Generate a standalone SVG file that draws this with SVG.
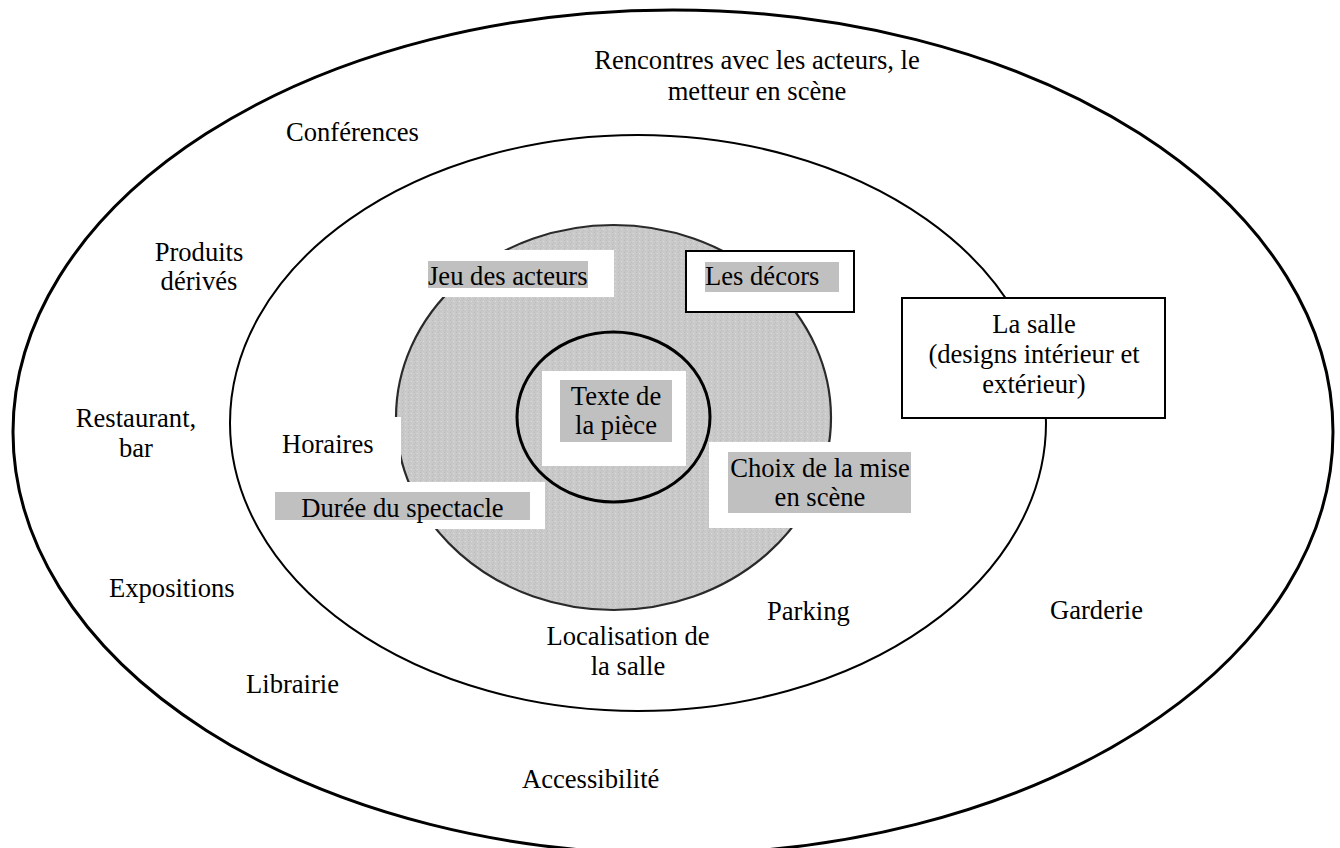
<svg xmlns="http://www.w3.org/2000/svg" width="1340" height="848" viewBox="0 0 1340 848">
  <style>
    .t { font-family: "Liberation Serif", "Times New Roman", serif; font-size: 26.6px; fill: #000; }
    .m { text-anchor: middle; }
    .hl { fill: #c0c0c0; }
    .patch { fill: #ffffff; }
    .box { fill: #ffffff; stroke: #000; stroke-width: 2; }
  </style>
  <defs>
    <pattern id="stipple" width="6" height="4" patternUnits="userSpaceOnUse">
      <rect width="6" height="4" fill="#cacaca"/>
      <rect x="0" y="0" width="1" height="1" fill="#b9b9b9"/>
      <rect x="3" y="1" width="1" height="1" fill="#dadada"/>
      <rect x="1" y="2" width="1" height="1" fill="#bdbdbd"/>
      <rect x="4" y="3" width="1" height="1" fill="#d6d6d6"/>
      <rect x="0" y="3" width="6" height="1" fill="#c4c4c4" opacity="0.6"/>
    </pattern>
  </defs>

  <rect width="1340" height="848" fill="#ffffff"/>

  <g id="rings">
    <ellipse id="outer-ring" cx="673" cy="432" rx="660" ry="422" fill="#ffffff" stroke="#000" stroke-width="3"/>
    <ellipse id="middle-ring" cx="638" cy="423" rx="408" ry="288" fill="#ffffff" stroke="#000" stroke-width="2"/>
    <ellipse id="gray-ring" cx="613.5" cy="417.5" rx="217.5" ry="192.5" fill="url(#stipple)" stroke="#2a2a2a" stroke-width="2.2"/>
    <ellipse id="inner-core" cx="613.5" cy="417" rx="96.5" ry="85" fill="url(#stipple)" stroke="#000" stroke-width="3"/>
  </g>

  <g id="connectors"></g>

  <g id="outer-labels">
    <g id="n-rencontres">
      <text class="t m" x="757" y="69">Rencontres avec les acteurs, le</text>
      <text class="t m" x="757" y="100">metteur en scène</text>
    </g>
    <g id="n-conferences"><text class="t" x="286" y="141">Conférences</text></g>
    <g id="n-produits">
      <text class="t m" x="199" y="261">Produits</text>
      <text class="t m" x="199" y="290">dérivés</text>
    </g>
    <g id="n-restaurant">
      <text class="t m" x="136" y="427">Restaurant,</text>
      <text class="t m" x="136" y="457">bar</text>
    </g>
    <g id="n-expositions"><text class="t" x="109" y="597">Expositions</text></g>
    <g id="n-librairie"><text class="t" x="246" y="693">Librairie</text></g>
    <g id="n-accessibilite"><text class="t" x="522" y="788">Accessibilité</text></g>
    <g id="n-garderie"><text class="t" x="1050" y="619">Garderie</text></g>
  </g>

  <g id="middle-labels">
    <g id="n-horaires">
      <rect class="patch" x="270" y="417" width="131" height="65"/>
      <text class="t" x="282" y="453">Horaires</text>
    </g>
    <g id="n-localisation">
      <text class="t m" x="628" y="645">Localisation de</text>
      <text class="t m" x="628" y="675">la salle</text>
    </g>
    <g id="n-parking"><text class="t" x="767" y="620">Parking</text></g>
    <g id="n-la-salle">
      <rect class="box" x="902" y="298" width="263" height="120"/>
      <text class="t m" x="1034" y="333">La salle</text>
      <text class="t m" x="1034" y="363">(designs intérieur et</text>
      <text class="t m" x="1034" y="393">extérieur)</text>
    </g>
  </g>

  <g id="gray-labels">
    <g id="n-jeu">
      <rect class="patch" x="418" y="250" width="196" height="47"/>
      <rect class="hl" x="428" y="261" width="160" height="27"/>
      <text class="t" x="428" y="285">Jeu des acteurs</text>
    </g>
    <g id="n-decors">
      <rect class="box" x="686" y="251" width="168" height="61"/>
      <rect class="hl" x="705" y="262" width="134" height="30"/>
      <text class="t" x="705" y="285">Les décors</text>
    </g>
    <g id="n-duree">
      <rect class="patch" x="270" y="482" width="275" height="47"/>
      <rect class="hl" x="275" y="492" width="255" height="28"/>
      <text class="t m" x="402.5" y="517">Durée du spectacle</text>
    </g>
    <g id="n-choix">
      <rect class="patch" x="709" y="442" width="215" height="86"/>
      <rect class="hl" x="728" y="452" width="183" height="61"/>
      <text class="t m" x="820" y="477">Choix de la mise</text>
      <text class="t m" x="820" y="506">en scène</text>
    </g>
    <g id="n-texte">
      <rect class="patch" x="542" y="371" width="144" height="95"/>
      <rect class="hl" x="560" y="380" width="112" height="62"/>
      <text class="t m" x="616" y="405">Texte de</text>
      <text class="t m" x="616" y="434">la pièce</text>
    </g>
  </g>
</svg>
